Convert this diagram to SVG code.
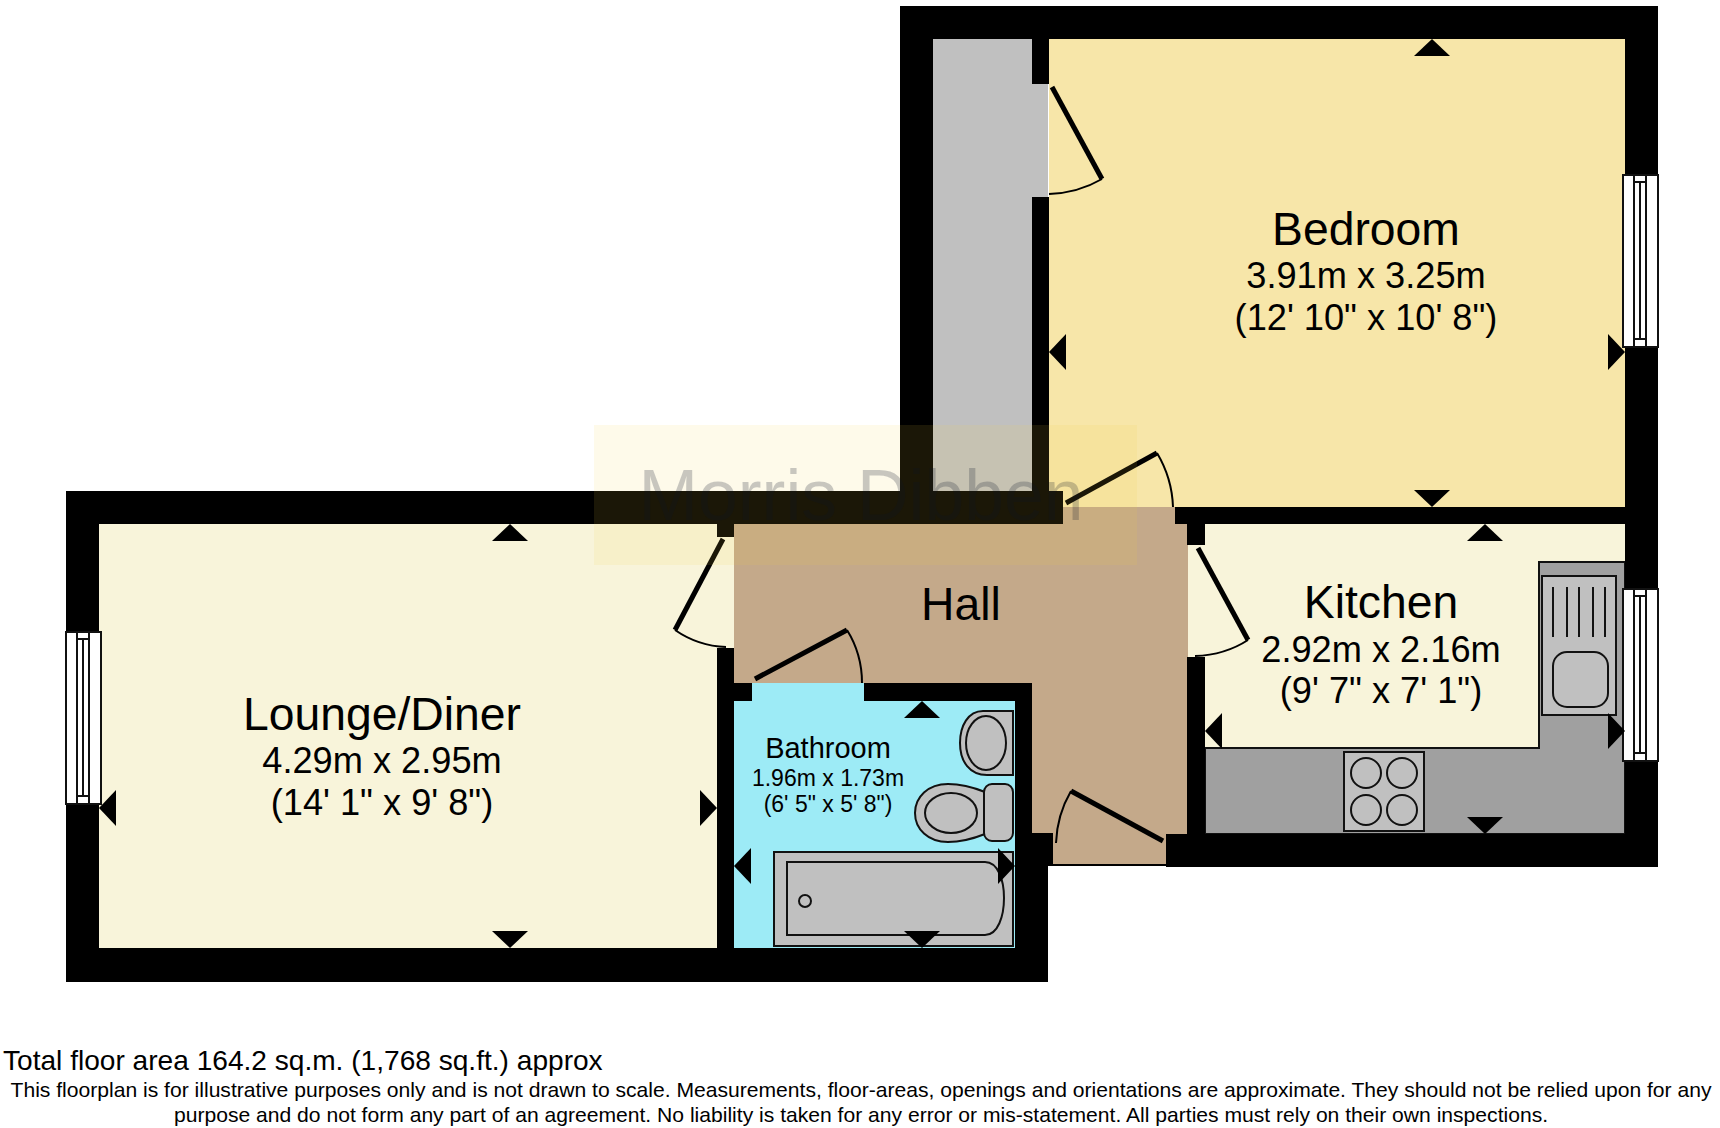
<svg xmlns="http://www.w3.org/2000/svg" width="1720" height="1128" viewBox="0 0 1720 1128">
<style>
text{font-family:"Liberation Sans",Arial,sans-serif;fill:#000;text-anchor:middle}
.w{fill:#000}
.leaf{stroke:#000;stroke-width:5;fill:none}
.arc{stroke:#000;stroke-width:2;fill:none}
.fx{fill:#c0c0c0;stroke:#111;stroke-width:2}
.win{fill:#fff;stroke:#111;stroke-width:2}
.t1{font-size:46.3px}.t2{font-size:36.2px}
.b1{font-size:29px}.b2{font-size:23px}
.foot{font-size:21.1px}
</style>
<defs>
<polygon id="tri" points="0,0 18,17 -18,17" fill="#000"/>
<g id="win-v">
<rect class="win" x="0" y="0" width="35" height="172"/>
<rect class="win" x="11" y="0" width="12" height="172"/>
<rect class="win" x="11" y="7" width="12" height="157"/>
<line x1="17" y1="7" x2="17" y2="164" stroke="#111" stroke-width="2"/>
</g>
</defs>
<rect width="1720" height="1128" fill="#fff"/>

<g id="floors">
<rect id="floor-lounge" x="99" y="524" width="635" height="424" fill="#f8f4da"/>
<rect id="floor-grey" x="933" y="39" width="115" height="468" fill="#c0c0c0"/>
<rect id="floor-bedroom" x="1049" y="39" width="576" height="468" fill="#f7e6a9"/>
<polygon id="floor-hall" points="734,524 1063,524 1063,507 1175,507 1175,524 1188,524 1188,834 1166,834 1166,864 1053,864 1053,834 1032,834 1032,683 734,683" fill="#c4a98a"/>
<rect id="floor-kitchen" x="1188" y="524" width="437" height="310" fill="#f8f4da"/>
<rect id="floor-bath" x="734" y="683" width="281" height="265" fill="#9debf6"/>
</g>

<g id="counters">
<polygon points="1205,748 1539,748 1539,562 1625,562 1625,834 1205,834" fill="#a0a0a0" stroke="#111" stroke-width="2"/>
</g>

<g id="walls">
<rect class="w" x="66" y="491" width="997" height="33"/>
<rect class="w" x="66" y="491" width="33" height="491"/>
<rect class="w" x="66" y="948" width="982" height="34"/>
<rect class="w" x="717" y="524" width="17" height="13"/>
<rect class="w" x="717" y="648" width="17" height="300"/>
<rect class="w" x="717" y="683" width="35" height="18"/>
<rect class="w" x="864" y="683" width="168" height="18"/>
<rect class="w" x="1015" y="683" width="17" height="151"/>
<rect class="w" x="1015" y="833" width="38" height="33"/>
<rect class="w" x="1015" y="866" width="33" height="116"/>
<rect class="w" x="1053" y="864" width="113" height="2"/>
<rect class="w" x="900" y="6" width="33" height="518"/>
<rect class="w" x="900" y="6" width="758" height="33"/>
<rect class="w" x="1625" y="6" width="33" height="861"/>
<rect class="w" x="1032" y="39" width="17" height="45"/>
<rect class="w" x="1032" y="197" width="17" height="310"/>
<rect class="w" x="933" y="507" width="116" height="17"/>
<rect class="w" x="1175" y="507" width="450" height="17"/>
<rect class="w" x="1187" y="524" width="18" height="21"/>
<rect class="w" x="1187" y="657" width="18" height="177"/>
<rect class="w" x="1166" y="834" width="492" height="33"/>
</g>

<g id="doors">
<g id="door-bedroom-store"><line class="leaf" x1="1052" y1="87" x2="1102" y2="179"/><path class="arc" d="M1102 179 Q1078 193 1049 194"/></g>
<g id="door-bedroom"><line class="leaf" x1="1066" y1="503" x2="1157" y2="453"/><path class="arc" d="M1157 453 Q1172 478 1173 507"/></g>
<g id="door-lounge"><line class="leaf" x1="723" y1="539" x2="675" y2="630"/><path class="arc" d="M675 630 Q698 646 726 647"/></g>
<g id="door-bath"><line class="leaf" x1="755" y1="679" x2="847" y2="630"/><path class="arc" d="M847 630 Q862 654 862 683"/></g>
<g id="door-kitchen"><line class="leaf" x1="1198" y1="548" x2="1248" y2="640"/><path class="arc" d="M1248 640 Q1225 655 1195 656"/></g>
<g id="door-entrance"><line class="leaf" x1="1163" y1="841" x2="1071" y2="791"/><path class="arc" d="M1071 791 Q1057 815 1056 843"/></g>
</g>

<g id="windows">
<use href="#win-v" x="66" y="632"/>
<use href="#win-v" x="1623" y="175"/>
<use href="#win-v" x="1623" y="589"/>
</g>

<g id="fixtures">
<g id="bath"><rect class="fx" x="774" y="852" width="239" height="94"/><path class="fx" d="M787 862 H985 C998 862 1004 880 1004 898 C1004 916 998 935 985 935 H787 Z"/><circle class="fx" cx="805" cy="901" r="6"/></g>
<g id="basin"><path class="fx" d="M1013 711 H983 C968 711 960 726 960 743 C960 762 970 775 987 775 H1013 Z"/><ellipse class="fx" cx="986" cy="743" rx="20" ry="27"/></g>
<g id="toilet"><path class="fx" d="M985 792 C970 786 958 784 948 784 C928 784 915 797 915 813 C915 829 928 842 948 842 C958 842 970 840 985 834 Z"/><rect class="fx" x="984" y="784" width="29" height="57" rx="8"/><ellipse class="fx" cx="951" cy="813" rx="26" ry="20"/></g>
<g id="hob"><rect class="fx" x="1344" y="752" width="80" height="79"/><circle class="fx" cx="1366" cy="773" r="15"/><circle class="fx" cx="1402" cy="773" r="15"/><circle class="fx" cx="1366" cy="810" r="15"/><circle class="fx" cx="1402" cy="810" r="15"/></g>
<g id="sink"><rect class="fx" x="1542" y="576" width="74" height="139"/><path d="M1553 587V637M1567 587V637M1579 587V637M1593 587V637M1605 587V637" stroke="#111" stroke-width="2"/><rect class="fx" x="1553" y="652" width="55" height="55" rx="14"/></g>
</g>

<g id="markers">
<use href="#tri" transform="translate(1432,39)"/>
<use href="#tri" transform="translate(1432,507) rotate(180)"/>
<use href="#tri" transform="translate(1049,352) rotate(-90)"/>
<use href="#tri" transform="translate(1625,352) rotate(90)"/>
<use href="#tri" transform="translate(510,524)"/>
<use href="#tri" transform="translate(510,948) rotate(180)"/>
<use href="#tri" transform="translate(99,808) rotate(-90)"/>
<use href="#tri" transform="translate(717,808) rotate(90)"/>
<use href="#tri" transform="translate(922,701)"/>
<use href="#tri" transform="translate(922,948) rotate(180)"/>
<use href="#tri" transform="translate(734,866) rotate(-90)"/>
<use href="#tri" transform="translate(1015,866) rotate(90)"/>
<use href="#tri" transform="translate(1485,524)"/>
<use href="#tri" transform="translate(1485,834) rotate(180)"/>
<use href="#tri" transform="translate(1205,731) rotate(-90)"/>
<use href="#tri" transform="translate(1625,731) rotate(90)"/>
</g>

<g id="labels">
<g id="label-bedroom"><text class="t1" x="1366" y="245">Bedroom</text><text class="t2" x="1366" y="288">3.91m x 3.25m</text><text class="t2" x="1366" y="330">(12' 10" x 10' 8")</text></g>
<g id="label-lounge"><text class="t1" x="382" y="730">Lounge/Diner</text><text class="t2" x="382" y="773">4.29m x 2.95m</text><text class="t2" x="382" y="815">(14' 1" x 9' 8")</text></g>
<g id="label-hall"><text class="t1" x="961" y="620">Hall</text></g>
<g id="label-kitchen"><text class="t1" x="1381" y="618">Kitchen</text><text class="t2" x="1381" y="662">2.92m x 2.16m</text><text class="t2" x="1381" y="703">(9' 7" x 7' 1")</text></g>
<g id="label-bathroom"><text class="b1" x="828" y="758">Bathroom</text><text class="b2" x="828" y="786">1.96m x 1.73m</text><text class="b2" x="828" y="812">(6' 5" x 5' 8")</text></g>
</g>

<g id="watermark">
<rect x="594" y="425" width="543" height="140" fill="#f5d040" opacity="0.11"/>
<text x="861" y="520" style="font-size:71.5px;fill:#0c1428" opacity="0.22">Morris Dibben</text>
</g>

<g id="footer">
<text x="3" y="1070" style="font-size:28.1px;text-anchor:start">Total floor area 164.2 sq.m. (1,768 sq.ft.) approx</text>
<text class="foot" x="861" y="1097">This floorplan is for illustrative purposes only and is not drawn to scale. Measurements, floor-areas, openings and orientations are approximate. They should not be relied upon for any</text>
<text class="foot" x="861" y="1122">purpose and do not form any part of an agreement. No liability is taken for any error or mis-statement. All parties must rely on their own inspections.</text>
</g>
</svg>
